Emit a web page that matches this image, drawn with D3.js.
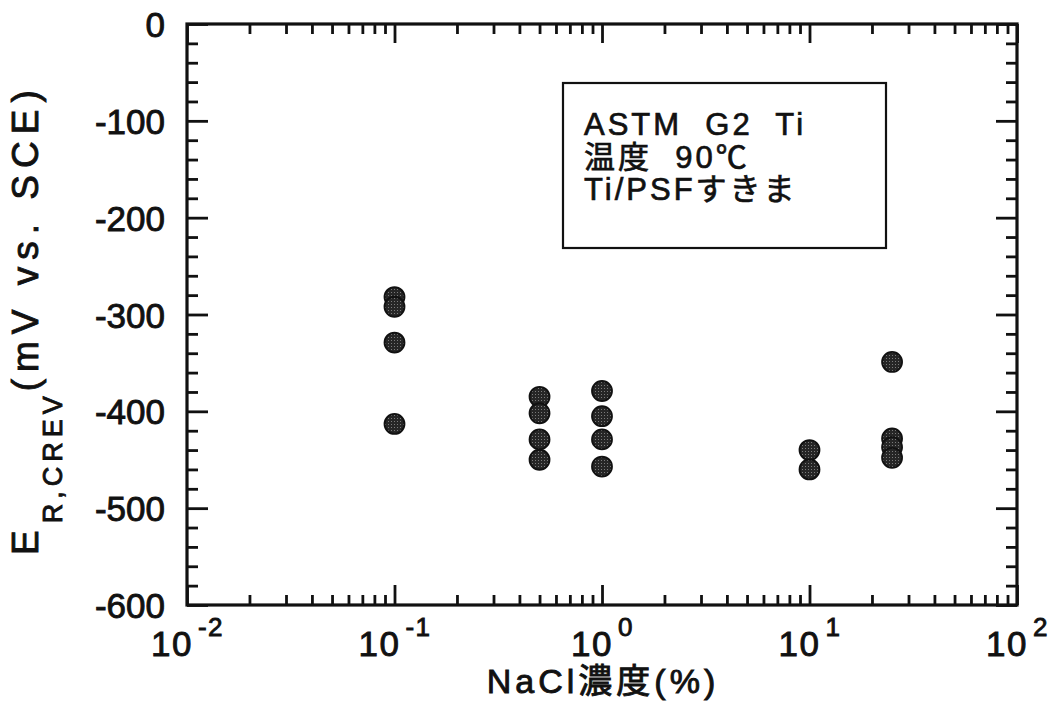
<!DOCTYPE html>
<html>
<head>
<meta charset="utf-8">
<script src="https://cdn.jsdelivr.net/npm/d3@7"></script>
<style>
  html, body { margin: 0; padding: 0; background: #fff; }
  svg text { font-family: "Liberation Sans", Arial, "Noto Sans CJK JP", sans-serif; fill: #111; }
</style>
</head>
<body>
<svg id="chart" width="1059" height="706"></svg>
<script>
// NaCl concentration (%) and crevice repassivation potential (mV vs. SCE)
const naclPct = [0.1, 0.1, 0.1, 0.1,
                 0.5, 0.5, 0.5, 0.5,
                 1, 1, 1, 1,
                 10, 10,
                 25, 25, 25, 25];
const eRcrev  = [-282, -292, -329, -413,
                 -385, -402, -429, -450,
                 -379, -405, -429, -457,
                 -440, -460,
                 -349, -428, -437, -448];

const xDomain = [0.01, 100];
const yDomain = [-600, 0];
const xMajorExp = [-2, -1, 0, 1, 2];
const yMajor = [0, -100, -200, -300, -400, -500, -600];
const legendLines = ["ASTM  G2  Ti", "温度  90℃", "Ti/PSFすきま"];

const svg = d3.select("#chart");
const L = 187, R = 1017, T = 24, B = 605;

const x = d3.scaleLog().domain(xDomain).range([L, R]);
const y = d3.scaleLinear().domain(yDomain).range([B, T]);

const xMajor = xMajorExp.map(e => Math.pow(10, e));
const xMinor = [];
for (let e = -2; e < 2; e++) for (let j = 2; j <= 9; j++) xMinor.push(j * Math.pow(10, e));
const yMinor = d3.range(-600, 1, 20).filter(v => v % 100 !== 0);

// speckled fill for the markers
const defs = svg.append("defs");
const pat = defs.append("pattern").attr("id", "speck").attr("patternUnits", "userSpaceOnUse")
  .attr("width", 3).attr("height", 3);
pat.append("rect").attr("width", 3).attr("height", 3).attr("fill", "#262626");
pat.append("rect").attr("x", 1).attr("y", 1).attr("width", 1).attr("height", 1).attr("fill", "#7a7a7a");

function styleAxis(g, w) {
  g.select(".domain").remove();
  g.selectAll(".tick line").attr("stroke", "#111").attr("stroke-width", w);
}

// inward ticks on all four sides
const addAxis = (gen, tx, ty, w) => {
  const g = svg.append("g").attr("transform", `translate(${tx},${ty})`).call(gen);
  styleAxis(g, w);
  return g;
};

addAxis(d3.axisBottom(x).tickValues(xMinor).tickSize(-10).tickFormat(""), 0, B, 2.8);
addAxis(d3.axisTop(x).tickValues(xMinor).tickSize(-10).tickFormat(""), 0, T, 2.8);
addAxis(d3.axisTop(x).tickValues(xMajor).tickSize(-19).tickFormat(""), 0, T, 2.8);
addAxis(d3.axisLeft(y).tickValues(yMinor).tickSize(-11).tickFormat(""), L, 0, 2.8);
addAxis(d3.axisRight(y).tickValues(yMinor).tickSize(-11).tickFormat(""), R, 0, 2.8);
addAxis(d3.axisRight(y).tickValues(yMajor).tickSize(-21).tickFormat(""), R, 0, 2.8);

// bottom major ticks with power-of-ten labels
const gxB = addAxis(d3.axisBottom(x).tickValues(xMajor).tickSize(-20).tickPadding(0)
  .tickFormat(d => ""), 0, B, 2.8);
gxB.selectAll(".tick text").each(function(d) {
  const t = d3.select(this)
    .attr("y", 51).attr("dy", null)
    .attr("font-size", 35).attr("text-anchor", "middle")
    .attr("letter-spacing", 1.5)
    .attr("stroke", "#111").attr("stroke-width", 0.9);
  t.append("tspan").text("10");
  t.append("tspan").attr("dx", 5).attr("dy", -20).attr("font-size", 26)
    .text(String(Math.round(Math.log10(d))));
});

// left major ticks with labels
const gyL = addAxis(d3.axisLeft(y).tickValues(yMajor).tickSize(-21).tickPadding(22)
  .tickFormat(d => String(d)), L, 0, 2.8);
gyL.selectAll(".tick text")
  .attr("font-size", 35).attr("dy", "0.36em")
  .attr("stroke", "#111").attr("stroke-width", 0.9)
  .style("font-family", "'Liberation Sans', Arial, sans-serif");

// frame
svg.append("rect").attr("x", L).attr("y", T).attr("width", R - L).attr("height", B - T)
  .attr("fill", "none").attr("stroke", "#111").attr("stroke-width", 3.2);

// legend box
svg.append("rect").attr("x", 563).attr("y", 83).attr("width", 323).attr("height", 165)
  .attr("fill", "#fff").attr("stroke", "#111").attr("stroke-width", 2.2);
svg.append("g").selectAll("text").data(legendLines).join("text")
  .attr("x", 584).attr("y", (d, i) => 135 + i * 32.5)
  .attr("font-size", 31).attr("letter-spacing", 3)
  .attr("stroke", "#111").attr("stroke-width", 0.7)
  .style("white-space", "pre")
  .text(d => d);

// data points
svg.append("g").selectAll("circle").data(naclPct.map((c, i) => [c, eRcrev[i]])).join("circle")
  .attr("cx", d => x(d[0])).attr("cy", d => y(d[1])).attr("r", 10)
  .attr("fill", "url(#speck)").attr("stroke", "#111").attr("stroke-width", 1.8);

// axis titles
svg.append("text").attr("x", 603).attr("y", 693).attr("text-anchor", "middle")
  .attr("font-size", 34).attr("letter-spacing", 4)
  .attr("stroke", "#111").attr("stroke-width", 0.9)
  .text("NaCl濃度(%)");

const yt = svg.append("text").attr("transform", "translate(38,555) rotate(-90)")
  .attr("font-size", 37).attr("letter-spacing", 7)
  .attr("stroke", "#111").attr("stroke-width", 0.9)
  .style("white-space", "pre");
yt.append("tspan").text("E");
yt.append("tspan").attr("dy", 24).attr("font-size", 27).attr("letter-spacing", 5).text("R,CREV");
yt.append("tspan").attr("dy", -24).text("(mV vs. SCE)");
</script>
</body>
</html>
